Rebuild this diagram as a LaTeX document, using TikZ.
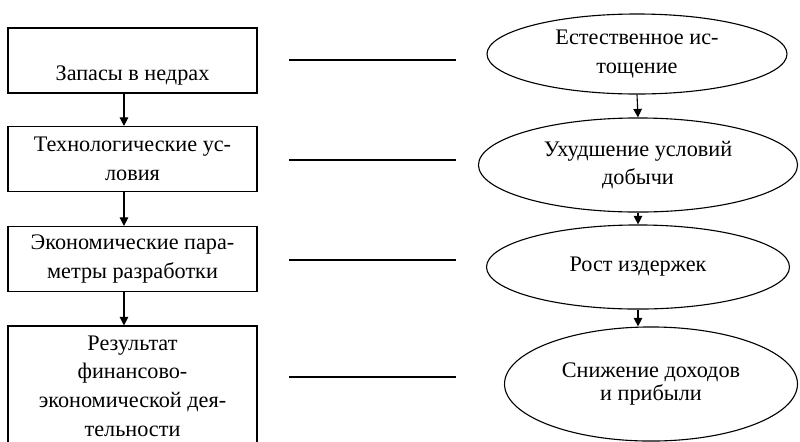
\documentclass[tikz,border=0pt]{standalone}
\usepackage{fontspec}
\setmainfont{Liberation Serif}
\usetikzlibrary{arrows.meta, shapes.geometric}

\begin{document}
\begin{tikzpicture}[x=0.54pt, y=-0.54pt,
    line width=0.6pt,
    font=\fontsize{12}{15.5}\selectfont,
    factor/.style = {draw, rectangle, align=center, inner sep=0pt,
        minimum width=134.5pt, minimum height=35.1pt},
    effect/.style = {draw, ellipse, align=center, inner sep=0pt},
    every edge/.style = {draw, -{Triangle[length=4.6pt, width=4.6pt]}}]
    % \draw [help lines] (0,0) grid (800,441);
    \clip (0,0) rectangle (800,441);
    \node (Z1) [factor] at (132.5,60.5) {\mbox{}\\[9pt]Запасы в недрах};
    \node (Z2) [factor] at (132.5,159) {Технологические ус-\\ловия};
    \node (Z3) [factor] at (132.5,259) {Экономические пара-\\метры разработки};
    \node (Z4) [factor, minimum height=64.8pt] at (132.5,386)
        {Результат\\финансово-\\экономической дея-\\тельности};

    \node (E1) [effect, minimum width=162pt, minimum height=43.2pt]
        at (637,54) {Естественное ис-\\тощение};
    \node (E2) [effect, minimum width=172.3pt, minimum height=50.8pt]
        at (638,165) {Ухудшение условий\\добычи};
    \node (E3) [effect, minimum width=163.6pt, minimum height=45.4pt]
        at (638,267) {Рост издержек};
    \node (E4) [effect, minimum width=158.2pt, minimum height=61.6pt]
        at (651,384) {Снижение доходов\\[-3pt]и прибыли};

    \coordinate (L1) at (289,60);  \coordinate (R1) at (456,60);
    \coordinate (L2) at (289,160); \coordinate (R2) at (456,160);
    \coordinate (L3) at (289,260); \coordinate (R3) at (456,260);
    \coordinate (L4) at (289,377); \coordinate (R4) at (456,377);

    \path
        ([xshift=-4.6pt]Z1.south) edge ([xshift=-4.6pt]Z2.north)
        ([xshift=-4.6pt]Z2.south) edge ([xshift=-4.6pt]Z3.north)
        ([xshift=-4.6pt]Z3.south) edge ([xshift=-4.6pt]Z4.north)
        (E1.south) edge (E2.north)
        (E2.south) edge (E3.north)
        (E3.south) edge (E3.south |- E4.north);

    \draw (L1) -- (R1);
    \draw (L2) -- (R2);
    \draw (L3) -- (R3);
    \draw (L4) -- (R4);
\end{tikzpicture}
\end{document}
